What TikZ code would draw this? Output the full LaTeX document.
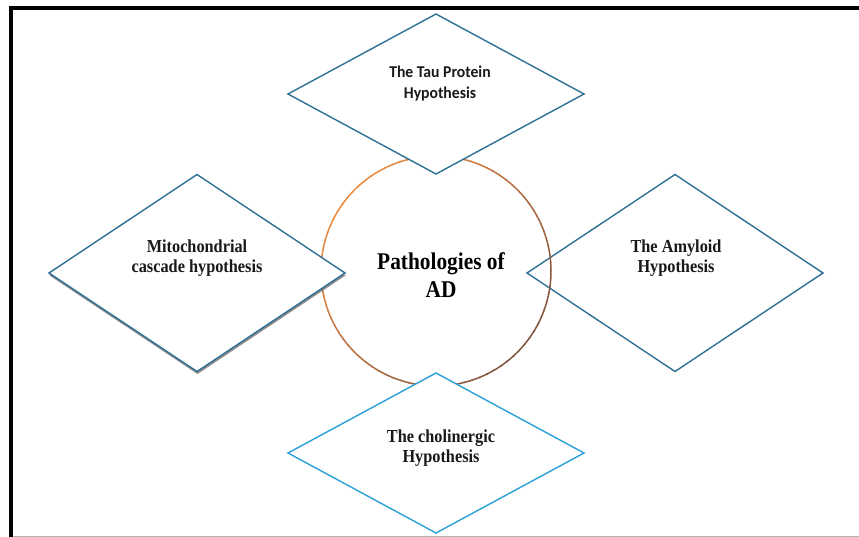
\documentclass[tikz,border=0pt]{standalone}
\usepackage{fontspec}
\setmainfont{Liberation Serif}[FakeStretch=0.89]
\newfontfamily\calibrifont{Carlito}[FakeStretch=0.95]
\usetikzlibrary{shapes.geometric,shadows}
\definecolor{hypblue}{RGB}{46,112,150}
\definecolor{cholblue}{RGB}{42,160,214}
\definecolor{ringorange}{RGB}{234,140,66}
\definecolor{ringbrown}{RGB}{128,84,62}
\begin{document}
\begin{tikzpicture}[x=1pt, y=-1pt,
        hyp/.style={diamond, draw=hypblue, line width=1.4pt, fill=white,
                inner sep=0pt, outer sep=0pt, minimum width=296pt},
        hyptext/.style={align=center, text=black!90,
                font=\fontsize{18.3}{20.5}\selectfont\bfseries},
        adtext/.style={align=center, text=black,
                font=\fontsize{24}{28}\selectfont\bfseries}
    ]

    \useasboundingbox (0,0) rectangle (859,537);

    % frame
    \draw[line width=4pt] (859,8) -- (11,8) -- (11,537);
    \draw[black!30, line width=1pt] (13,536) -- (859,536);

    % amyloid diamond sits under the ring
    \node[hyp, minimum height=197pt] (amyloid) at (675,273) {};
    \node[hyptext] (amyloid-text) at ([xshift=1pt, yshift=15pt]amyloid.center) {The Amyloid\\Hypothesis};

    % ring
    \node[circle, inner sep=0pt, outer sep=0pt, minimum size=230pt] (ad) at (436,271) {};
    \foreach \a in {0,4,...,356} {
            \pgfmathsetmacro\mixv{50*(1+cos(\a-135))}
            \draw[ringorange!\mixv!ringbrown, line width=1.5pt]
                (ad.\a) arc[start angle=\a, delta angle=4.6, radius=115pt];
        }
    \node[adtext] (ad-text) at ([xshift=5pt, yshift=-4pt]ad.center) {Pathologies of\\AD};

    \node[hyp, minimum height=160pt] (tau) at (436,94) {};
    \node[hyptext, font=\calibrifont\fontsize{16.5}{21}\selectfont\bfseries] (tau-text)
        at ([xshift=4pt, yshift=10pt]tau.center) {The Tau Protein\\Hypothesis};

    \node[hyp, minimum height=197pt,
        drop shadow={shadow xshift=0.5pt, shadow yshift=-2.5pt, opacity=0.6, fill=black!75}]
        (mito) at (197,273) {};
    \node[hyptext] (mito-text) at ([yshift=15pt]mito.center) {Mitochondrial\\cascade hypothesis};

    \node[hyp, draw=cholblue, minimum height=160pt] (chol) at (436,453) {};
    \node[hyptext] (chol-text) at ([xshift=5pt, yshift=5pt]chol.center) {The cholinergic\\Hypothesis};

\end{tikzpicture}
\end{document}
